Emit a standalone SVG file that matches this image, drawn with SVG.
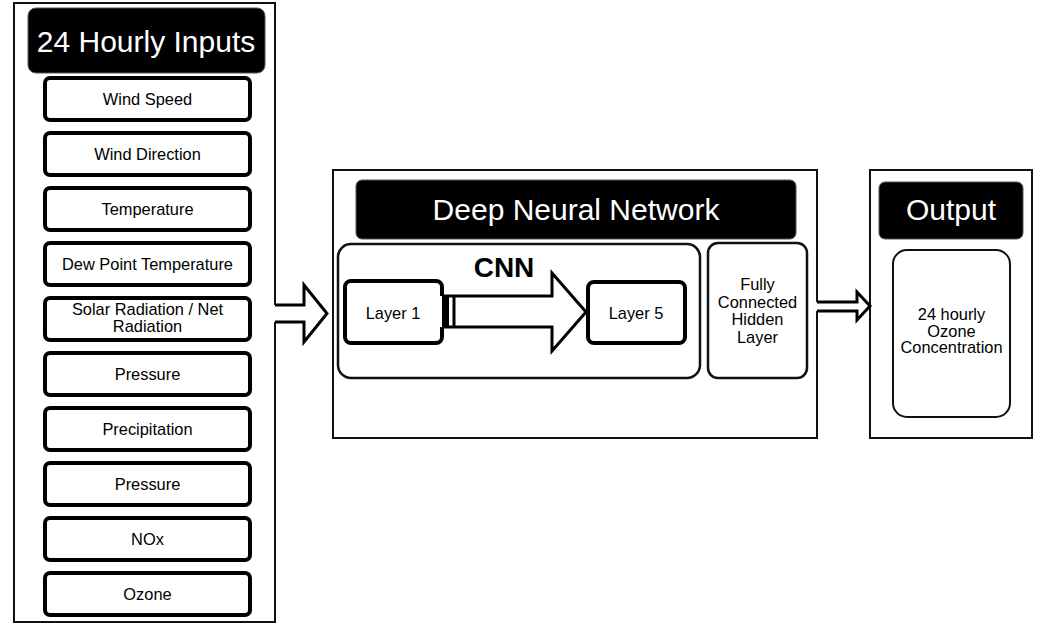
<svg xmlns="http://www.w3.org/2000/svg" width="1038" height="624" viewBox="0 0 1038 624">
<style>
text{font-family:"Liberation Sans",Arial,sans-serif;fill:#000;text-anchor:middle}
.hdr{fill:#000;stroke:#555;stroke-width:1}
.hdrt{fill:#fff;font-size:30px}
.frame{fill:#fff;stroke:#111;stroke-width:2}
.inp{fill:#fff;stroke:#000;stroke-width:4}
.thin{fill:#fff;stroke:#111;stroke-width:2.5}
.lt{font-size:16.4px}
.arr{fill:none;stroke:#000;stroke-width:3;stroke-linejoin:miter}
.arrf{fill:#fff;stroke:none}
</style>
<rect width="1038" height="624" fill="#fff"/>

<g id="inputs">
<rect class="frame" x="14" y="3" width="261" height="619"/>
<rect class="hdr" x="28" y="8" width="237" height="65" rx="8"/>
<text class="hdrt" x="146" y="52">24 Hourly Inputs</text>
</g>
<g id="wind-speed"><rect class="inp" x="45" y="78" width="205" height="42" rx="5"/><text class="lt" x="147.5" y="104.5">Wind Speed</text></g>
<g id="wind-direction"><rect class="inp" x="45" y="133" width="205" height="42" rx="5"/><text class="lt" x="147.5" y="159.5">Wind Direction</text></g>
<g id="temperature"><rect class="inp" x="45" y="188" width="205" height="42" rx="5"/><text class="lt" x="147.5" y="214.5">Temperature</text></g>
<g id="dew-point"><rect class="inp" x="45" y="243" width="205" height="42" rx="5"/><text class="lt" x="147.5" y="269.5">Dew Point Temperature</text></g>
<g id="solar"><rect class="inp" x="45" y="298" width="205" height="42" rx="5"/><text class="lt" x="147.5" y="315">Solar Radiation / Net</text><text class="lt" x="147.5" y="332">Radiation</text></g>
<g id="pressure1"><rect class="inp" x="45" y="353" width="205" height="42" rx="5"/><text class="lt" x="147.5" y="379.5">Pressure</text></g>
<g id="precipitation"><rect class="inp" x="45" y="408" width="205" height="42" rx="5"/><text class="lt" x="147.5" y="434.5">Precipitation</text></g>
<g id="pressure2"><rect class="inp" x="45" y="463" width="205" height="42" rx="5"/><text class="lt" x="147.5" y="489.5">Pressure</text></g>
<g id="nox"><rect class="inp" x="45" y="518" width="205" height="42" rx="5"/><text class="lt" x="147.5" y="544.5">NOx</text></g>
<g id="ozone"><rect class="inp" x="45" y="573" width="205" height="42" rx="5"/><text class="lt" x="147.5" y="599.5">Ozone</text></g>

<g id="dnn">
<rect class="frame" x="333" y="170" width="484" height="268"/>
<rect class="hdr" x="356" y="180" width="440" height="59" rx="6"/>
<text class="hdrt" x="576" y="220">Deep Neural Network</text>
</g>
<g id="cnn">
<rect class="thin" x="338" y="244" width="362" height="134" rx="13"/>
<text x="504" y="277" style="font-size:28px;font-weight:bold">CNN</text>
</g>
<g id="layer1"><rect class="inp" x="345" y="281" width="97" height="62" rx="6"/><text class="lt" x="393" y="318.5">Layer 1</text></g>
<g id="layer5"><rect class="inp" x="588" y="282" width="97" height="61" rx="6"/><text class="lt" x="636" y="318.5">Layer 5</text></g>
<g id="fc">
<rect class="thin" x="708" y="243" width="99" height="135" rx="10"/>
<text class="lt" x="757.5" y="290">Fully</text>
<text class="lt" x="757.5" y="307.5">Connected</text>
<text class="lt" x="757.5" y="325">Hidden</text>
<text class="lt" x="757.5" y="342.5">Layer</text>
</g>

<g id="output">
<rect class="frame" x="870" y="170" width="162" height="268"/>
<rect class="hdr" x="879" y="182" width="144" height="57" rx="6"/>
<text class="hdrt" x="951" y="220">Output</text>
</g>
<g id="ozone-out">
<rect class="thin" x="893" y="250" width="117" height="167" rx="14" style="stroke-width:2"/>
<text class="lt" x="951.5" y="320">24 hourly</text>
<text class="lt" x="951.5" y="336.5">Ozone</text>
<text class="lt" x="951.5" y="353">Concentration</text>
</g>

<g id="connectors">
<path class="arrf" d="M272,305 H304 V285 L327,313.5 L304,342 V322 H272 Z"/>
<path class="arr" d="M275,305 H304 V285 L327,313.5 L304,342 V322 H275"/>
<path class="arrf" d="M440,296 H552 V273 L586,312 L552,351 V327 H440 Z"/>
<path class="arr" d="M442,296 H552 V273 L586,312 L552,351 V327 H442"/>
<rect x="442" y="296" width="7" height="31" fill="#000"/>
<line x1="454" y1="296" x2="454" y2="327" stroke="#000" stroke-width="3"/>
<path class="arrf" d="M815,302 H857 V292 L870,306 L857,320 V311 H815 Z"/>
<path class="arr" d="M817,302 H857 V292 L870,306 L857,320 V311 H817"/>
</g>
</svg>
